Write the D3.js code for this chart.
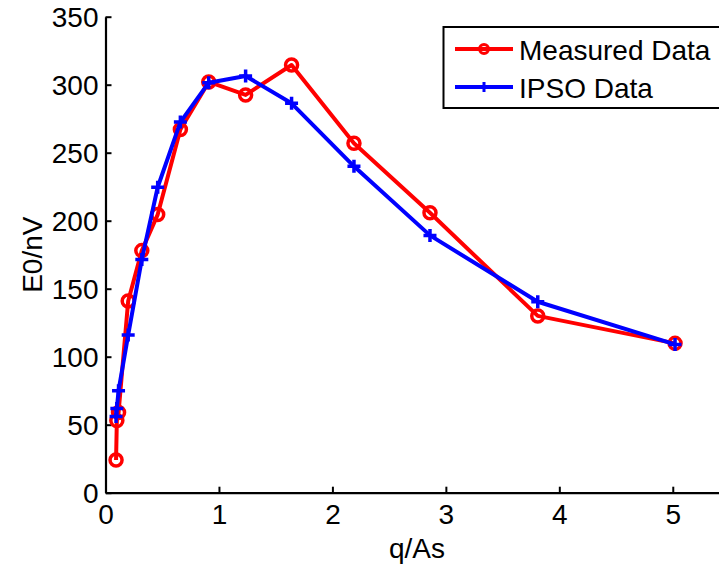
<!DOCTYPE html>
<html>
<head>
<meta charset="utf-8">
<script src="https://cdn.jsdelivr.net/npm/d3@7"></script>
<style>
  html, body { margin: 0; padding: 0; background: #fff; }
  svg { display: block; }
  text { font-family: "Liberation Sans", Arial, sans-serif; fill: #000; }
</style>
</head>
<body>
<svg id="chart" width="719" height="569"></svg>
<script>
const qValues = [0.093, 0.10, 0.115, 0.20, 0.32, 0.46, 0.66, 0.91, 1.235, 1.64, 2.19, 2.86, 3.81, 5.02];
const measured = [24, 53, 59, 141, 178, 204.5, 267, 302, 292.5, 314.5, 257, 205.8, 130, 109.8];
const ipso = [56, 62, 75, 116, 171.5, 224.6, 272.5, 301.5, 306.4, 286.3, 240, 189.2, 140.4, 109];
const xTicks = [0, 1, 2, 3, 4, 5];
const yTicks = [0, 50, 100, 150, 200, 250, 300, 350];
const seriesNames = ["Measured Data", "IPSO Data"];
const seriesColors = ["#ff0000", "#0000ff"];

const svg = d3.select("#chart");
const x = d3.scaleLinear().domain([0, 5.5]).range([105.5, 729.5]);
const y = d3.scaleLinear().domain([0, 350]).range([492.7, 16.7]);
const FS = 28;

// axes
const xAxis = svg.append("g").attr("transform", `translate(0,${y(0)})`)
  .call(d3.axisBottom(x).tickValues(xTicks).tickFormat(d3.format("d")).tickSizeInner(-6).tickSizeOuter(0).tickPadding(11));
const yAxis = svg.append("g").attr("transform", `translate(${x(0)},0)`)
  .call(d3.axisLeft(y).tickValues(yTicks).tickFormat(d3.format("d")).tickSizeInner(-6).tickSizeOuter(0).tickPadding(7));
[xAxis, yAxis].forEach(g => {
  g.select(".domain").attr("stroke", "#000").attr("stroke-width", 2.2);
  g.selectAll(".tick line").attr("stroke", "#000").attr("stroke-width", 2);
  g.selectAll(".tick text").attr("font-size", FS).attr("font-family", "Liberation Sans, Arial, sans-serif").attr("fill", "#000");
});
yAxis.selectAll(".tick text").attr("dy", "0.36em");

// axis labels
svg.append("text").attr("x", 417).attr("y", 558).attr("text-anchor", "middle").attr("font-size", FS).text("q/As");
svg.append("text").attr("transform", `translate(42,${(y(0) + y(350)) / 2}) rotate(-90)`)
  .attr("text-anchor", "middle").attr("font-size", FS).text("E0/nV");

const line = d3.line().x(d => x(d[0])).y(d => y(d[1]));
const dataSets = [measured, ipso].map(vals => qValues.map((q, i) => [q, vals[i]]));

function drawCircle(g, cx, cy, r, color, sw) {
  g.append("circle").attr("cx", cx).attr("cy", cy).attr("r", r)
    .attr("fill", "none").attr("stroke", color).attr("stroke-width", sw);
}
function drawPlus(g, cx, cy, s, color, sw) {
  g.append("path").attr("d", `M${cx - s},${cy}H${cx + s}M${cx},${cy - s}V${cy + s}`)
    .attr("stroke", color).attr("stroke-width", sw).attr("fill", "none");
}

// red series
const gr = svg.append("g");
gr.append("path").datum(dataSets[0]).attr("d", line).attr("fill", "none")
  .attr("stroke", seriesColors[0]).attr("stroke-width", 4).attr("stroke-linejoin", "round");
dataSets[0].forEach(d => drawCircle(gr, x(d[0]), y(d[1]), 6, seriesColors[0], 3.5));

// blue series
const gb = svg.append("g");
gb.append("path").datum(dataSets[1]).attr("d", line).attr("fill", "none")
  .attr("stroke", seriesColors[1]).attr("stroke-width", 4).attr("stroke-linejoin", "round");
dataSets[1].forEach(d => drawPlus(gb, x(d[0]), y(d[1]), 6.5, seriesColors[1], 3.5));

// legend
const lg = svg.append("g");
lg.append("rect").attr("x", 443.5).attr("y", 27).attr("width", 290).attr("height", 81)
  .attr("fill", "#fff").attr("stroke", "#000").attr("stroke-width", 2);
const rowsY = [49, 87];
seriesNames.forEach((name, i) => {
  lg.append("line").attr("x1", 455).attr("x2", 513).attr("y1", rowsY[i]).attr("y2", rowsY[i])
    .attr("stroke", seriesColors[i]).attr("stroke-width", 4);
  if (i === 0) drawCircle(lg, 484, rowsY[i], 4.5, seriesColors[i], 3);
  else drawPlus(lg, 484, rowsY[i], 5, seriesColors[i], 3);
  lg.append("text").attr("x", 519).attr("y", rowsY[i] + 11).attr("font-size", FS).text(name);
});
</script>
</body>
</html>
